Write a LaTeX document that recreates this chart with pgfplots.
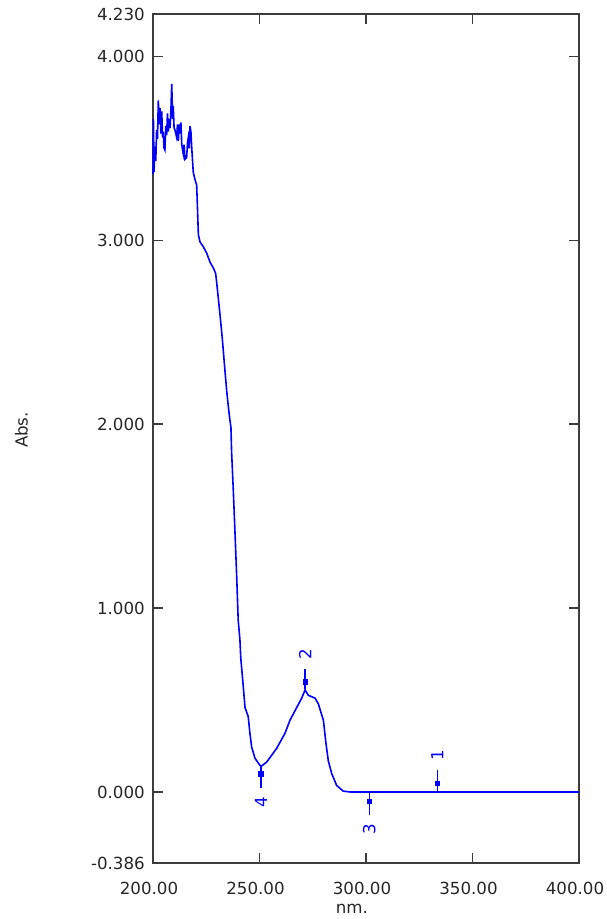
\documentclass[border=0pt]{standalone}
\usepackage{pgfplots}
\pgfplotsset{compat=1.18}
\usepackage{fontspec}
\setmainfont{DejaVu Sans}
\definecolor{specblue}{RGB}{0,0,255}
\definecolor{framegray}{RGB}{60,60,60}
\begin{document}
\begin{tikzpicture}
\useasboundingbox (-114.75pt,-42pt) rectangle (339.75pt,647.25pt);
\begin{axis}[
  at={(0pt,0pt)}, anchor=south west,
  scale only axis, width=319.5pt, height=636.75pt,
  xmin=200, xmax=400, ymin=-0.386, ymax=4.23,
  xtick={200,250,300,350,400},
  xticklabels={200.00,250.00,300.00,350.00,400.00},
  ytick={-0.386,0,1,2,3,4,4.23},
  yticklabels={-0.386,0.000,1.000,2.000,3.000,4.000,4.230},
  tick pos=both, xticklabel pos=left, yticklabel pos=left,
  tick align=inside, major tick length=7.5pt,
  every tick/.style={framegray, line width=1pt},
  axis line style={framegray, line width=1.5pt},
  every tick label/.append style={font=\fontsize{12.5}{15}\selectfont, text=black!85},
  xticklabel style={inner sep=0pt, anchor=north, yshift=-14pt, xshift=-3pt},
  yticklabel style={inner sep=0pt, anchor=east, xshift=-6pt},
  xlabel={nm.}, ylabel={Abs.},
  xlabel style={at={(axis description cs:0.467,-0.054)}, anchor=center, font=\fontsize{12.5}{15}\selectfont, text=black!85},
  ylabel style={at={(axis description cs:-0.309,0.51)}, anchor=center, font=\fontsize{12.5}{15}\selectfont, text=black!85},
  clip=false,
]
\addplot[specblue, line width=1.2pt] coordinates {
(200.0,3.36)(200.2,3.66)(200.5,3.37)(200.9,3.51)(201.3,3.43)(201.7,3.60)(202.1,3.55)
(202.5,3.76)(202.9,3.63)(203.3,3.72)(203.7,3.58)(204.1,3.70)(204.5,3.56)(204.8,3.59)
(205.2,3.50)(205.6,3.49)(206.0,3.62)(206.4,3.57)(206.8,3.69)(207.2,3.59)(207.6,3.66)
(208.0,3.61)(208.4,3.70)(208.8,3.85)(209.2,3.66)(209.5,3.73)(209.9,3.61)(210.3,3.60)
(210.7,3.58)(211.1,3.56)(211.5,3.63)(211.9,3.54)(212.3,3.63)(212.7,3.58)(213.1,3.64)
(213.5,3.52)(214.2,3.47)(214.6,3.52)(215.0,3.44)(215.8,3.45)(216.2,3.53)(216.6,3.56)
(217.0,3.50)(217.4,3.62)(217.8,3.59)(218.2,3.50)(218.9,3.37)(219.7,3.33)(220.5,3.30)
(220.9,3.17)(221.3,3.03)(222.1,2.99)(223.6,2.965)(225.2,2.93)(226.8,2.88)(228.3,2.85)
(229.4,2.82)(229.9,2.77)(230.7,2.68)(231.5,2.59)(232.5,2.47)(233.5,2.33)(234.6,2.18)
(235.7,2.06)(236.6,1.98)(236.9,1.85)(237.7,1.64)(238.5,1.41)(239.3,1.17)(240.0,0.934)
(240.8,0.83)(241.2,0.73)(242.4,0.571)(243.2,0.46)(244.7,0.41)(245.5,0.32)(246.3,0.245)
(247.9,0.183)(250.2,0.145)(250.8,0.14)(253.4,0.163)(258.1,0.238)(262.0,0.32)(264.3,0.39)
(267.5,0.46)(269.8,0.51)(271.4,0.555)(272.9,0.526)(276.1,0.51)(277.6,0.48)(280.0,0.39)
(281.2,0.265)(282.3,0.17)(283.9,0.10)(286.2,0.036)(289.3,0.005)(292.5,0)(400,0)
};
% peak / valley markers
\addplot[specblue, line width=1pt] coordinates {(333.5,0.0)(333.5,0.118)};
\addplot[specblue, line width=1pt] coordinates {(271.4,0.559)(271.4,0.671)};
\addplot[specblue, line width=1pt] coordinates {(301.6,-0.003)(301.6,-0.123)};
\addplot[specblue, line width=1pt] coordinates {(250.7,0.145)(250.7,0.022)};
\addplot[only marks, mark=square*, mark size=1.7pt, specblue] coordinates {
(333.5,0.047)(271.4,0.598)(301.6,-0.05)(250.7,0.10)};
\node[rotate=90, text=specblue, font=\fontsize{12.5}{15}\selectfont, inner sep=0pt] at (axis cs:333.5,0.20) {1};
\node[rotate=90, text=specblue, font=\fontsize{12.5}{15}\selectfont, inner sep=0pt] at (axis cs:271.4,0.749) {2};
\node[rotate=90, text=specblue, font=\fontsize{12.5}{15}\selectfont, inner sep=0pt] at (axis cs:301.6,-0.20) {3};
\node[rotate=90, text=specblue, font=\fontsize{12.5}{15}\selectfont, inner sep=0pt] at (axis cs:250.7,-0.053) {4};
\end{axis}
\end{tikzpicture}
\end{document}
